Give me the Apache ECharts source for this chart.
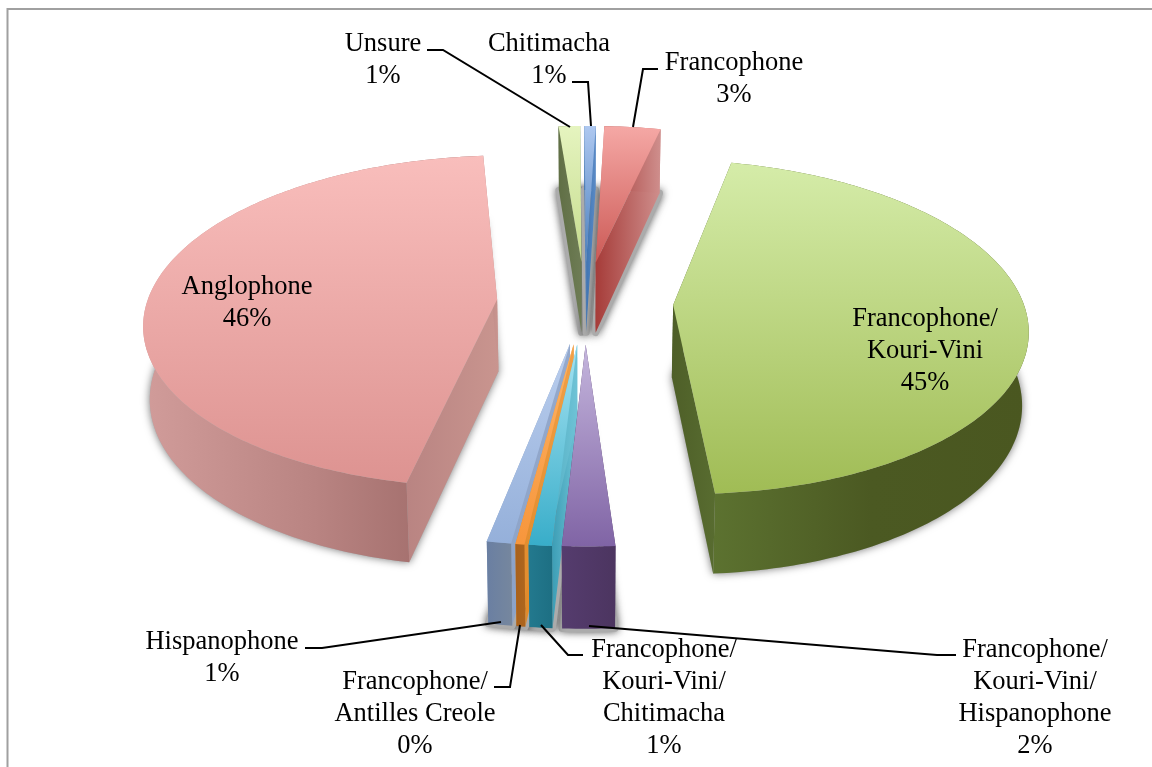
<!DOCTYPE html>
<html>
<head>
<meta charset="utf-8">
<style>
    html, body { margin: 0; padding: 0; background: #fff; }
    #chart { width: 1152px; height: 767px; }
</style>
<script src="https://cdn.jsdelivr.net/npm/echarts@6/dist/echarts.min.js"></script>
</head>
<body>
<div id="chart"></div>
<script>
    // shares, clockwise starting from Anglophone
    const sliceNames = [
        'Anglophone', 'Unsure', 'Chitimacha', 'Francophone',
        'Francophone/\nKouri-Vini',
        'Francophone/\nKouri-Vini/\nHispanophone',
        'Francophone/\nKouri-Vini/\nChitimacha',
        'Francophone/\nAntilles Creole',
        'Hispanophone'
    ];
    const sliceValues = [45.7, 1.15, 0.6, 3.0, 45.4, 2.05, 0.9, 0.35, 0.95];

    // look of the slices
    const topColors = [
        ['#F9BEBC', '#DD9391'], ['#E5F4BF', '#C5DB8D'], ['#AEC8F0', '#4A7FBE'],
        ['#F5A8A5', '#CC5A56'], ['#D5ECA9', '#A0BC55'], ['#C5B6DD', '#8064A5'],
        ['#A6E3F2', '#38ADC9'], ['#FDB365', '#F7963C'], ['#BACEEE', '#95B0DA']
    ];
    const arcColors = [
        ['#D19C9A', '#B98482', '#986462'], ['#606F45', '#6E7C55'], ['#3F74B2', '#5A8AC5'],
        ['#A63C39', '#CF8F8D'], ['#5C7230', '#4B5922', '#4A5720'], ['#553C6E', '#4C3560'],
        ['#23798E', '#1D6F83'], ['#A8611C', '#AE661E'], ['#6A7FA2', '#76879E']
    ];
    const sideColors = [
        ['#B98482', '#C9958F'], ['#606F45', '#6E7C55'], ['#3F74B2', '#5A8AC5'],
        ['#A63C39', '#CF8F8D'], ['#4E5F28', '#586C30'], ['#553C6E', '#4C3560'],
        ['#3C9DB5', '#6FC3D6'], ['#E08A2A', '#F0A048'], ['#8CA3C8', '#94A9CC']
    ];
    // front slices overlap, the ones near the middle are painted last
    const paintOrder = [0, 1, 2, 3, 4, 8, 7, 6, 5];

    // label centres and leader lines
    const labelCenters = [
        [247, 303], [383, 60], [549, 60], [734, 79], [925, 351],
        [1035, 698], [664, 698], [415, 714], [222, 658]
    ];
    const leaderLines = [
        null,
        [[427, 50], [443, 50], [570, 127]],
        [[572, 82], [588, 82], [591, 126]],
        [[658, 69], [643, 69], [633, 127]],
        null,
        [[956, 655], [937, 655], [900, 652], [589, 626]],
        [[583, 655], [568, 655], [541, 625]],
        [[494, 687], [510, 687], [520, 625]],
        [[305, 648], [322, 648], [501, 622]]
    ];

    // projection of the tilted pie
    const centerX = 585;
    const centerY = 302;
    const radiusX = 350;
    const radiusY = 163.5;
    const thickness = 72;
    const perspective = 0.13;
    const wallPerspective = 0.1;
    const lowerShrink = 0.985;
    const explode = 0.252;
    const startAngle = 191.2;
    const FONT = '"Liberation Serif", "Times New Roman", serif';

    const total = sliceValues.reduce((a, b) => a + b, 0);

    function project(x, y, down) {
        let s = 1 / (1 + perspective * y);
        let wall = thickness / (1 + wallPerspective * y);
        return [
            centerX + radiusX * x * s * (down ? lowerShrink : 1),
            centerY - radiusY * y * s + (down ? wall : 0)
        ];
    }

    function stops(c) {
        return c.map((color, i) => ({offset: i / (c.length - 1), color: color}));
    }
    function hGrad(c) {
        return new echarts.graphic.LinearGradient(0, 0, 1, 0, stops(c));
    }
    function vGrad(c) {
        return new echarts.graphic.LinearGradient(0, 0, 0, 1, stops(c));
    }
    function poly(points, style, z2) {
        return {type: 'polygon', shape: {points: points}, style: style, z2: z2, silent: true};
    }

    function renderSlice(params, api) {
        let i = params.dataIndex;
        let before = 0;
        for (let j = 0; j < i; j++) before += sliceValues[j];
        let a0 = startAngle + before / total * 360;
        let a1 = a0 + api.value(0) / total * 360;
        let mid = (a0 + a1) / 2 * Math.PI / 180;
        let ox = explode * Math.sin(mid);
        let oy = explode * Math.cos(mid);

        let topArc = [], lowArc = [];
        let steps = Math.max(2, Math.ceil(a1 - a0));
        for (let k = 0; k <= steps; k++) {
            let a = (a0 + (a1 - a0) * k / steps) * Math.PI / 180;
            topArc.push(project(ox + Math.sin(a), oy + Math.cos(a), false));
            lowArc.push(project(ox + Math.sin(a), oy + Math.cos(a), true));
        }
        let tipTop = project(ox, oy, false);
        let tipLow = project(ox, oy, true);
        let base = 10 + paintOrder[i] * 10;
        let children = [];

        // soft shadow under the slice, the thin ones run together into a grey band
        let thin = api.value(0) < 5;
        children.push(poly([tipLow].concat(lowArc), {
            fill: '#ABABAB', stroke: '#ABABAB', lineWidth: thin ? 7 : 0, lineJoin: 'round',
            shadowBlur: 8, shadowColor: 'rgba(0,0,0,0.55)'
        }, 1));

        let last = topArc.length - 1;
        let side = hGrad(sideColors[i]);
        children.push(poly([tipTop, topArc[0], lowArc[0], tipLow], {fill: side}, base));
        children.push(poly([tipTop, topArc[last], lowArc[last], tipLow], {fill: side}, base + 1));
        children.push(poly(topArc.concat(lowArc.slice().reverse()), {fill: hGrad(arcColors[i])}, base + 2));
        children.push(poly([tipTop].concat(topArc), {fill: vGrad(topColors[i])}, base + 3));

        if (leaderLines[i]) {
            children.push({
                type: 'polyline', shape: {points: leaderLines[i]}, silent: true, z2: 200,
                style: {stroke: '#000', lineWidth: 2, fill: null}
            });
        }
        children.push({
            type: 'text', silent: true, z2: 210,
            x: labelCenters[i][0], y: labelCenters[i][1],
            style: {
                text: sliceNames[i] + '\n' + Math.round(api.value(0) / total * 100) + '%',
                fontFamily: FONT, fontSize: 26.5, lineHeight: 32,
                fill: '#000', align: 'center', verticalAlign: 'middle'
            }
        });
        return {type: 'group', children: children};
    }

    let chart = echarts.init(document.getElementById('chart'));
    let option = {
        backgroundColor: '#fff',
        animation: false,
        graphic: [{
            type: 'polyline',
            shape: {points: [[7.5, 767], [7.5, 9], [1152, 9]]},
            style: {stroke: '#A0A0A0', lineWidth: 2, fill: null},
            silent: true
        }],
        series: [{
            type: 'custom',
            coordinateSystem: 'none',
            renderItem: renderSlice,
            silent: true,
            data: sliceValues.map((v, i) => ({name: sliceNames[i], value: [v]}))
        }]
    };
    chart.setOption(option);
</script>
</body>
</html>
